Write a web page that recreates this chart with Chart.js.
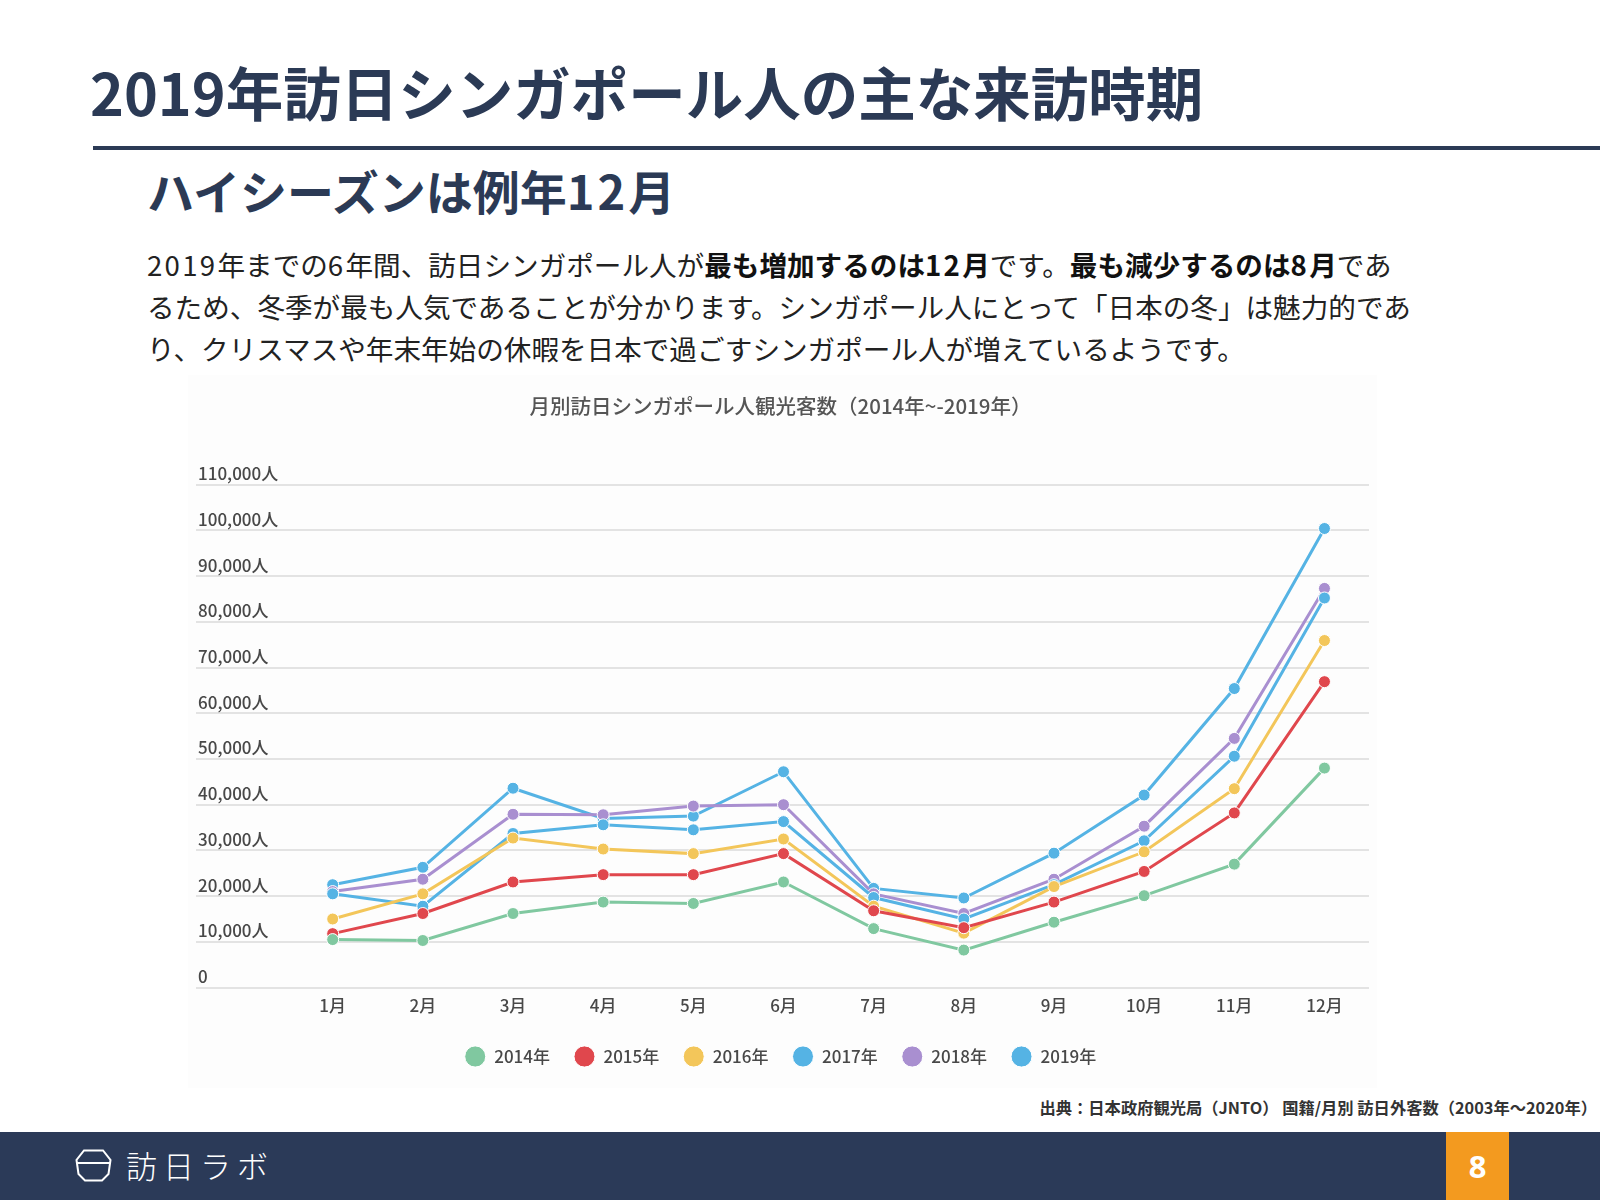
<!DOCTYPE html>
<html lang="ja">
<head>
<meta charset="utf-8">
<title>2019年訪日シンガポール人の主な来訪時期</title>
<script src="https://cdn.jsdelivr.net/npm/chart.js@4.4.1/dist/chart.umd.min.js"></script>
<style>
  body {
    margin: 0;
    width: 1600px;
    height: 1200px;
    position: relative;
    overflow: hidden;
    background: #fff;
    font-family: "Noto Sans CJK JP", "Noto Sans", sans-serif;
  }
  .page-title {
    position: absolute;
    left: 90px;
    top: 49px;
    margin: 0;
    font-size: 57.5px;
    line-height: 84px;
    font-weight: 700;
    color: #2b3a55;
    white-space: nowrap;
  }
  .rule {
    position: absolute;
    left: 93px;
    right: 0;
    top: 146px;
    height: 4px;
    background: #2b3a55;
  }
  .sub-title {
    position: absolute;
    left: 147px;
    top: 162px;
    margin: 0;
    font-size: 47px;
    line-height: 56px;
    font-weight: 700;
    color: #2b3a55;
    white-space: nowrap;
  }
  .sub-title .num { letter-spacing: 3px; }
  .lead {
    position: absolute;
    left: 147px;
    top: 243px;
    margin: 0;
    font-size: 27.6px;
    line-height: 42px;
    color: #222;
    white-space: nowrap;
  }
  .lead b { color: #111; }
  .lead .num { letter-spacing: 2.3px; }
  .chart-bg {
    position: absolute;
    left: 188px;
    top: 375px;
    width: 1189px;
    height: 713px;
    background: #fdfdfd;
  }
  .chart-box {
    position: absolute;
    left: 184px;
    top: 370px;
    width: 1200px;
    height: 711px;
  }
  .source {
    position: absolute;
    right: 3px;
    top: 1095px;
    font-size: 16.3px;
    line-height: 24px;
    font-weight: 700;
    color: #333;
    white-space: nowrap;
  }
  .footer {
    position: absolute;
    left: 0;
    top: 1132px;
    width: 1600px;
    height: 68px;
    background: #2b3a58;
  }
  .logo-icon {
    position: absolute;
    left: 75px;
    top: 17px;
  }
  .logo-text {
    position: absolute;
    left: 126px;
    top: 13px;
    font-size: 31px;
    line-height: 40px;
    font-weight: 300;
    letter-spacing: 6px;
    color: #fff;
  }
  .page-no {
    position: absolute;
    left: 1446px;
    top: 0;
    width: 63px;
    height: 68px;
    background: #f39a1f;
    color: #fff;
    font-family: "Noto Sans", sans-serif;
    font-size: 31px;
    font-weight: 700;
    line-height: 68px;
    text-align: center;
  }
</style>
</head>
<body>
  <h1 class="page-title">2019年訪日シンガポール人の主な来訪時期</h1>
  <div class="rule"></div>
  <h2 class="sub-title">ハイシーズンは例年<span class="num">12</span>月</h2>
  <p class="lead"><span class="num">2019</span>年までの<span class="num">6</span>年間、訪日シンガポール人が<b>最も増加するのは<span class="num">12</span>月</b>です。<b>最も減少するのは<span class="num">8</span>月</b>であ<br>るため、冬季が最も人気であることが分かります。シンガポール人にとって「日本の冬」は魅力的であ<br>り、クリスマスや年末年始の休暇を日本で過ごすシンガポール人が増えているようです。</p>

  <div class="chart-bg"></div>
  <div class="chart-box">
    <canvas id="visitorsChart" width="1200" height="711"></canvas>
  </div>

  <div class="source">出典：日本政府観光局（JNTO） 国籍/月別 訪日外客数（2003年〜2020年）</div>

  <div class="footer">
    <svg class="logo-icon" width="37" height="33" viewBox="0 0 37 33">
      <path d="M9 1.5 L28 1.5 L35.5 11 L33.5 25 L27 31.5 L10 31.5 L3.5 25 L1.5 11 Z" fill="none" stroke="#fff" stroke-width="2"/>
      <line x1="1.5" y1="14" x2="35.5" y2="14" stroke="#fff" stroke-width="2"/>
    </svg>
    <div class="logo-text">訪日ラボ</div>
    <div class="page-no">8</div>
  </div>

<script>
  // data
  const months = ["1月", "2月", "3月", "4月", "5月", "6月", "7月", "8月", "9月", "10月", "11月", "12月"];
  const years = ["2014年", "2015年", "2016年", "2017年", "2018年", "2019年"];

  const visitors2014 = [10500, 10300, 16200, 18700, 18400, 23100, 12900, 8200, 14300, 20100, 27000, 48000];
  const visitors2015 = [11800, 16200, 23100, 24700, 24700, 29300, 16800, 13100, 18700, 25400, 38200, 66900];
  const visitors2016 = [15000, 20500, 32700, 30300, 29300, 32500, 17800, 11900, 22100, 29700, 43500, 75900];
  const visitors2017 = [20500, 17800, 33700, 35600, 34500, 36300, 19700, 15000, 22500, 32100, 50600, 85200];
  const visitors2018 = [21000, 23700, 37900, 37800, 39700, 40000, 20500, 16200, 23700, 35300, 54500, 87300];
  const visitors2019 = [22500, 26300, 43600, 37000, 37500, 47200, 21700, 19600, 29400, 42100, 65400, 100400];

  const yTicks = [0, 10000, 20000, 30000, 40000, 50000, 60000, 70000, 80000, 90000, 100000, 110000];

  const series = [visitors2014, visitors2015, visitors2016, visitors2017, visitors2018, visitors2019];
  const colors = ["#80c8a0", "#e0474d", "#f3c65a", "#55b3e4", "#a98fd0", "#55b3e4"];

  const textColor = "#484848";
  const chartFont = "'Noto Sans CJK JP', 'Noto Sans', sans-serif";

  const ctx = document.getElementById("visitorsChart");
  const visitorsChart = new Chart(ctx, {
    type: "line",
    data: {
      datasets: years.map((year, i) => ({
        label: year,
        data: series[i].map((v, m) => ({ x: m + 1, y: v })),
        borderColor: colors[i],
        backgroundColor: colors[i],
        pointBackgroundColor: colors[i],
        pointBorderColor: "#fff",
        pointBorderWidth: 1,
        pointRadius: 6,
        borderWidth: 3,
        tension: 0,
      })),
    },
    options: {
      responsive: false,
      animation: false,
      layout: {
        padding: { left: 8, right: 15, top: 0, bottom: 6 },
      },
      plugins: {
        title: {
          display: true,
          text: "月別訪日シンガポール人観光客数（2014年~-2019年）",
          color: "#555",
          font: { family: chartFont, size: 20.5, weight: "500" },
          padding: { top: 24, bottom: 66 },
        },
        legend: {
          position: "bottom",
          labels: {
            usePointStyle: true,
            pointStyle: "circle",
            boxHeight: 15,
            pointStyleWidth: 21,
            padding: 24,
            color: textColor,
            font: { family: chartFont, size: 17, weight: "500" },
          },
        },
        tooltip: { enabled: false },
      },
      scales: {
        x: {
          type: "linear",
          min: -0.516,
          max: 12.494,
          grid: { display: false, drawTicks: false },
          border: { display: false },
          afterBuildTicks: (axis) => {
            axis.ticks = months.map((m, i) => ({ value: i + 1 }));
          },
          ticks: {
            padding: 8,
            autoSkip: false,
            maxRotation: 0,
            color: textColor,
            font: { family: chartFont, size: 17, weight: "500" },
            callback: (value) => months[value - 1],
          },
        },
        y: {
          min: yTicks[0],
          max: yTicks[yTicks.length - 1],
          border: { display: false },
          grid: { color: "#e3e3e3", lineWidth: 2, drawTicks: false },
          afterBuildTicks: (axis) => {
            axis.ticks = yTicks.map((v) => ({ value: v }));
          },
          ticks: {
            mirror: true,
            padding: 2,
            labelOffset: -11,
            color: textColor,
            font: { family: chartFont, size: 17, weight: "500" },
            callback: (value) => (value === 0 ? "0" : value.toLocaleString("en-US") + "人"),
          },
        },
      },
    },
  });
</script>
</body>
</html>
